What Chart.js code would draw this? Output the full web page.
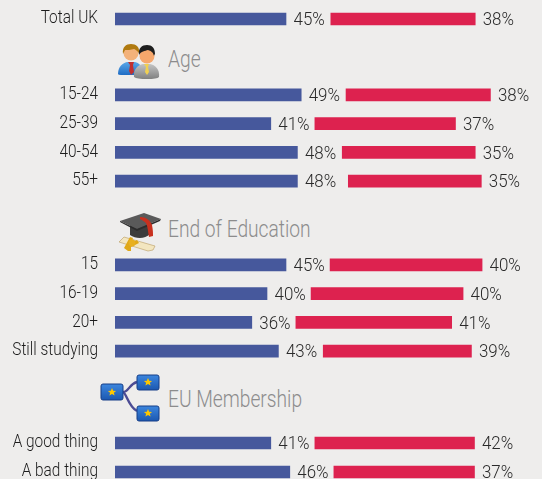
<!DOCTYPE html>
<html><head><meta charset="utf-8">
<script src="https://cdn.jsdelivr.net/npm/chart.js@4"></script>
<style>
html,body{margin:0;padding:0;width:542px;height:479px;overflow:hidden;background:#eeedec}
canvas{position:absolute;left:0}
.h{position:absolute;left:168px;font:300 24px Roboto,'Liberation Sans',sans-serif;color:#8c8c8c;line-height:26px;white-space:nowrap;transform:scaleX(.8);transform-origin:0 0}
svg{position:absolute}
</style></head><body>
<div class="h" style="top:46px">Age</div>
<div class="h" style="top:216px">End of Education</div>
<div class="h" style="top:386px">EU Membership</div>

<svg style="left:115px;top:40px" width="50" height="40" viewBox="0 0 50 40">
<defs><linearGradient id="b" x1="0" y1="0" x2="0" y2="1"><stop offset="0" stop-color="#5aa8e8"/><stop offset="1" stop-color="#1f6cc4"/></linearGradient>
<linearGradient id="g" x1="0" y1="0" x2="0" y2="1"><stop offset="0" stop-color="#c4c4c4"/><stop offset="1" stop-color="#808080"/></linearGradient></defs>
<path d="M3 34c0-8 5-11 9-12h8c4 1 7 4 8 8l-2 5H6q-3 0-3-1z" fill="url(#b)"/>
<path d="M13 22h6l-1 3 1 7-3 3-2-4 1-6z" fill="#c03030"/>
<circle cx="16" cy="13" r="7.5" fill="#f3b27a"/>
<path d="M8 14c-1-7 3-10 8-10s9 3 8 9c-3-3-4-4-5-4-3 1-7 1-9 1z" fill="#b07a10"/>
<path d="M19 37c-1-8 4-12 9-13h7c5 1 10 5 9 13q-2 2-12 2t-13-2z" fill="url(#g)"/>
<path d="M29 24h5l-1 3 1 5-2 3-2-3 1-5z" fill="#f0d050"/>
<circle cx="32" cy="16" r="7.5" fill="#f6a76c"/>
<path d="M24 15c-1-7 3-10 8-10s8 3 8 9c-1 1-1 2-1 2-1-4-3-5-6-6-3 1-7 1-9 5z" fill="#1e1e1e"/>
</svg>

<svg style="left:115px;top:210px" width="50" height="42" viewBox="0 0 50 42">
<path d="M15 12v13c6 4 15 4 20-1V12z" fill="#3c3c3c"/>
<path d="M5 11L29 3l17 6-24 10z" fill="#5a5a5a"/>
<path d="M5 11L22 19l24-10-1 2-23 10L5 12z" fill="#2c2c2c"/>
<path d="M25 7c6 0 10 3 12 8 1 5 1 8 1 11l-4 1c-1-4-1-10-3-14-2-2-4-3-6-4z" fill="#c8301e"/>
<path d="M4 32l5-5 31 9-2 4-5 1z" fill="#f3e6c0" stroke="#b89a60" stroke-width=".6"/>
<path d="M9 38l6-11 3 1-2 5 6-3 2 3-8 4 0 4-3 0z" fill="#e0a818"/>
<circle cx="17" cy="33" r="3.4" fill="#e8b020"/>
</svg>

<svg style="left:98px;top:372px" width="68" height="56" viewBox="0 0 68 56">
<defs><linearGradient id="e" x1="0" y1="0" x2="0" y2="1"><stop offset="0" stop-color="#3c86de"/><stop offset="1" stop-color="#1c58b0"/></linearGradient></defs>
<path d="M25 20c6 0 6-8 14-10M25 20c4 2 5 14 14 19" fill="none" stroke="#4c4c94" stroke-width="2.4"/>
<g stroke="#173e88" stroke-width="1" fill="url(#e)">
<rect x="3" y="12" width="22" height="16" rx="2"/>
<rect x="39" y="3" width="22" height="15" rx="2"/>
<rect x="39" y="34" width="22" height="15" rx="2"/>
</g>
<g fill="#ffc800">
<path d="M14 16l1.2 2.7 2.9.2-2.2 1.9.7 2.8-2.6-1.5-2.6 1.5.7-2.8-2.2-1.9 2.9-.2z"/>
<path d="M50 6l1.2 2.7 2.9.2-2.2 1.9.7 2.8-2.6-1.5-2.6 1.5.7-2.8-2.2-1.9 2.9-.2z"/>
<path d="M50 37l1.2 2.7 2.9.2-2.2 1.9.7 2.8-2.6-1.5-2.6 1.5.7-2.8-2.2-1.9 2.9-.2z"/>
</g>
</svg>

<script>
const totalLabels = ['Total UK'];
const totalBlue = [45];
const totalRed = [38];
const totalGap = [11.8];

const ageLabels = ['15-24','25-39','40-54','55+'];
const ageBlue = [49,41,48,48];
const ageRed = [38,37,35,35];
const ageGap = [11.8,11.6,11.8,13.4];

const eduLabels = ['15','16-19','20+','Still studying'];
const eduBlue = [45,40,36,43];
const eduRed = [40,40,41,39];
const eduGap = [11.6,11.6,11.6,11.8];

const euLabels = ['A good thing','A bad thing'];
const euBlue = [41,46];
const euRed = [42,37];
const euGap = [11.6,11.6];

const FONT = "Roboto,'Liberation Sans',sans-serif";
const narrowText = {
  id:'narrowText',
  afterDatasetsDraw(c){
    const ctx = c.ctx;
    ctx.save();
    ctx.font = '300 19px '+FONT;
    ctx.textBaseline = 'middle';
    ctx.fillStyle = '#2a2a2a';
    ctx.textAlign = 'left';
    [0,2].forEach(d=>{
      c.getDatasetMeta(d).data.forEach((bar,i)=>{
        ctx.save();
        ctx.translate(bar.x+7.5, bar.y+1.5);
        ctx.scale(.89,1);
        ctx.fillText(c.data.datasets[d].data[i]+'%',0,0);
        ctx.restore();
      });
    });
    ctx.fillStyle = '#1c1c1c';
    ctx.textAlign = 'right';
    c.data.labels.forEach((label,i)=>{
      ctx.save();
      ctx.translate(98, c.scales.y.getPixelForValue(i)-0.5);
      ctx.scale(.81,1);
      ctx.fillText(label,0,0);
      ctx.restore();
    });
    ctx.restore();
  }
};
function panel(top,height,pad,labels,blue,gap,red){
  const cv = document.createElement('canvas');
  cv.style.top = top+'px';
  cv.width = 542; cv.height = height;
  document.body.appendChild(cv);
  new Chart(cv,{
    type:'bar',
    data:{labels,datasets:[
      {data:blue,backgroundColor:'#46589c',stack:'s'},
      {data:gap,backgroundColor:'rgba(0,0,0,0)',stack:'s'},
      {data:red,backgroundColor:'#dd224f',stack:'s'}
    ]},
    options:{
      indexAxis:'y',responsive:false,animation:false,
      layout:{padding:{top:pad,bottom:pad,left:0,right:0}},
      datasets:{bar:{barThickness:12}},
      plugins:{legend:{display:false},tooltip:{enabled:false},title:{display:false}},
      scales:{
        x:{display:false,stacked:true,min:0,max:112.37},
        y:{stacked:true,
           grid:{display:false,drawTicks:false},border:{display:false},
           afterFit(a){a.width=115;a.paddingTop=0;a.paddingBottom=0},
           ticks:{display:false}}
      }
    },
    plugins:[narrowText]
  });
}
panel(5,28,0,totalLabels,totalBlue,totalGap,totalRed);
panel(80,116,0.6,ageLabels,ageBlue,ageGap,ageRed);
panel(250,116,0.6,eduLabels,eduBlue,eduGap,eduRed);
panel(428,59,0.5,euLabels,euBlue,euGap,euRed);
</script>
</body></html>
